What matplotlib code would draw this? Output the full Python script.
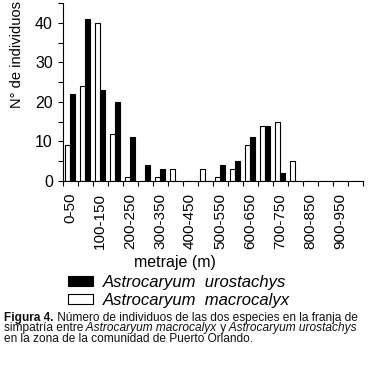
import numpy as np
import matplotlib.pyplot as plt

plt.rcParams['font.family'] = ['Liberation Sans', 'DejaVu Sans']

# metraje classes (m), 50 m wide, 0-1000
bins = [f"{a}-{a + 50}" for a in range(0, 1000, 50)]
urostachys = [22, 41, 23, 20, 11, 4, 3, 0, 0, 0, 4, 5, 11, 14, 2, 0, 0, 0, 0, 0]
macrocalyx = [9, 24, 40, 12, 1, 0, 1, 3, 0, 3, 1, 3, 9, 14, 15, 5, 0, 0, 0, 0]

# %%
fig = plt.figure(figsize=(3.70, 3.65), dpi=100)
ax = fig.add_axes([62.5 / 370, 1 - 181 / 365, 300 / 370, 178 / 365])

x = np.arange(len(bins))
w = 0.31
b_mac = ax.bar(x + 0.5 - w / 2, macrocalyx, width=w, color='white', edgecolor='black', lw=0.8,
               label='Astrocaryum  macrocalyx')
b_uro = ax.bar(x + 0.5 + w / 2, urostachys, width=w, color='black', edgecolor='black', lw=0.8,
               label='Astrocaryum  urostachys')

ax.set_xlim(0, 20)
ax.set_ylim(0, 45)
ax.set_yticks(np.arange(0, 41, 10))
ax.set_yticks(np.arange(0, 46, 5), minor=True)
ax.set_xticks(np.arange(0, 21))
ax.set_xticks(x[::2] + 0.5, minor=True)
ax.set_xticklabels([])
ax.set_xticklabels(bins[::2], minor=True, rotation=90, fontsize=11)
ax.tick_params(axis='x', which='minor', length=0, pad=8.5)
ax.tick_params(axis='x', which='major', length=3.5, width=0.8)
ax.tick_params(axis='y', which='both', length=3.5, width=0.8, labelsize=11.5)
for s in ['top', 'right']:
    ax.spines[s].set_visible(False)

fig.text(17 / 370, 1 - 55 / 365, 'N° de individuos', rotation=90, fontsize=10.5,
         ha='center', va='center')
fig.text(175 / 370, 1 - 263 / 365, 'metraje (m)', fontsize=11.5, ha='center', va='center')

fig.legend(handles=[b_uro, b_mac], loc='upper left', bbox_to_anchor=(68 / 370, 1 - 275 / 365),
           frameon=False, prop={'style': 'italic', 'size': 12}, handlelength=1.5,
           handleheight=0.55, handletextpad=0.6, labelspacing=0.2, borderaxespad=0, borderpad=0)

# caption, one line at a time, pieces chained left to right
cap_lines = [
    [("Figura 4.", 'bold', 'normal'),
     (" Número de individuos de las dos especies en la franja de", 'normal', 'normal')],
    [("simpatría entre", 'normal', 'normal'), (" Astrocaryum macrocalyx", 'normal', 'italic'),
     (" y", 'normal', 'normal'), (" Astrocaryum urostachys", 'normal', 'italic')],
    [("en la zona de la comunidad de Puerto Orlando.", 'normal', 'normal')],
]
cap_y = [323.5, 334.5, 345.5]
fs_cap = 8.55
for line, yb in zip(cap_lines, cap_y):
    t = None
    for s, wt, st in line:
        if t is None:
            t = fig.text(4 / 370, 1 - yb / 365, s, fontsize=fs_cap, fontweight=wt, style=st,
                         ha='left', va='bottom', color='#111111')
        else:
            t = ax.annotate(s, xy=(1, 0), xycoords=t, ha='left', va='bottom', fontsize=fs_cap,
                            fontweight=wt, style=st, color='#111111', annotation_clip=False)

plt.savefig('out.png', dpi=100)
